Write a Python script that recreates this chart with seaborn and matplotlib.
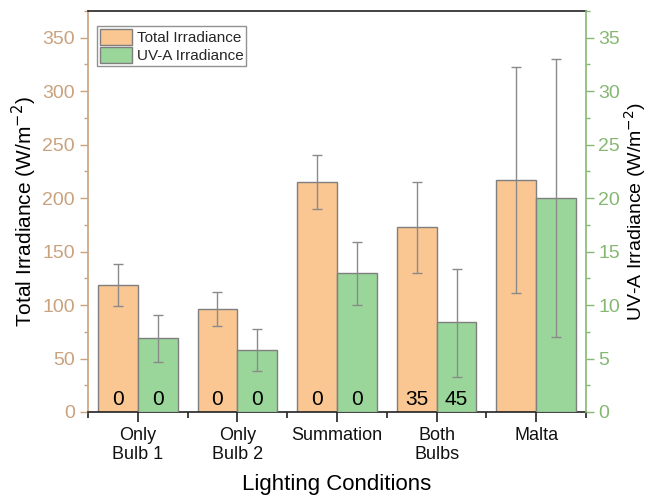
import numpy as np
import pandas as pd
import matplotlib
matplotlib.use("Agg")
import matplotlib.pyplot as plt
import seaborn as sns
from matplotlib.patches import Patch
from matplotlib.ticker import MultipleLocator

categories = ["Only\nBulb 1", "Only\nBulb 2", "Summation", "Both\nBulbs", "Malta"]
total = [119, 96, 215, 173, 217]
total_lo = [99, 80, 190, 130, 111]
total_hi = [138, 112, 240, 215, 323]
uva = [6.9, 5.8, 13.0, 8.4, 20.0]
uva_lo = [4.7, 3.8, 10.0, 3.3, 7.0]
uva_hi = [9.1, 7.8, 15.9, 13.4, 33.0]
labels_total = ["0", "0", "0", "35", ""]
labels_uva = ["0", "0", "0", "45", ""]
series = ["Total Irradiance", "UV-A Irradiance"]

sns.set_theme(style="white")
plt.rcParams["font.family"] = ["Liberation Sans", "DejaVu Sans"]

c_orange = "#FAC792"
c_green = "#9AD69A"
c_left = "#C9A27E"
c_right = "#86B873"
edge = "#7f7f7f"

df_t = pd.DataFrame({"cond": categories, "val": total, "series": series[0]})
df_u = pd.DataFrame({"cond": categories, "val": uva, "series": series[1]})
pal = {series[0]: c_orange, series[1]: c_green}

fig = plt.figure(figsize=(6.48, 4.95), dpi=100)
ax = fig.add_axes([0.1358, 0.1677, 0.7685, 0.81])
ax2 = ax.twinx()

sns.barplot(data=df_t, x="cond", y="val", hue="series", hue_order=series, order=categories,
            palette=pal, width=0.8, dodge=True, edgecolor=edge, linewidth=1, ax=ax,
            legend=False, saturation=1)
sns.barplot(data=df_u, x="cond", y="val", hue="series", hue_order=series, order=categories,
            palette=pal, width=0.8, dodge=True, edgecolor=edge, linewidth=1, ax=ax2,
            legend=False, saturation=1)

xt = np.array([p.get_x() + p.get_width() / 2 for p in ax.patches[:len(categories)]])
xu = np.array([p.get_x() + p.get_width() / 2 for p in ax2.patches[:len(categories)]])

t = np.array(total); u = np.array(uva)
ax.errorbar(xt, t, yerr=[t - np.array(total_lo), np.array(total_hi) - t], fmt="none",
            ecolor="#8a8a8a", elinewidth=1, capsize=3.5, capthick=1, zorder=5)
ax2.errorbar(xu, u, yerr=[u - np.array(uva_lo), np.array(uva_hi) - u], fmt="none",
             ecolor="#8a8a8a", elinewidth=1, capsize=3.5, capthick=1, zorder=5)

for x, s in zip(xt, labels_total):
    ax.text(x, 3, s, ha="center", va="bottom", fontsize=15, color="black", zorder=6)
for x, s in zip(xu, labels_uva):
    ax2.text(x, 0.3, s, ha="center", va="bottom", fontsize=15, color="black", zorder=6)

ax.set_xlim(-0.5, 4.5)
ax.set_ylim(0, 375)
ax2.set_ylim(0, 37.5)

ax.yaxis.set_major_locator(MultipleLocator(50))
ax.yaxis.set_minor_locator(MultipleLocator(25))
ax2.yaxis.set_major_locator(MultipleLocator(5))
ax2.yaxis.set_minor_locator(MultipleLocator(2.5))
ax.set_xticks(range(len(categories)))
ax.set_xticklabels(categories)
ax.xaxis.set_minor_locator(MultipleLocator(1, offset=0.5))

for sp in ["top", "bottom"]:
    ax.spines[sp].set_color("#222222")
    ax2.spines[sp].set_visible(False)
ax.spines["left"].set_color(c_left)
ax2.spines["left"].set_visible(False)
ax2.spines["right"].set_color(c_right)
ax.spines["right"].set_visible(False)
for sp in ax.spines.values():
    sp.set_linewidth(1.2)
ax2.spines["right"].set_linewidth(1.2)

ax.tick_params(axis="y", which="both", left=True, direction="out", colors=c_left, labelsize=14)
ax.tick_params(axis="y", which="major", length=6, width=1)
ax.tick_params(axis="y", which="minor", length=3, width=1)
ax2.tick_params(axis="y", which="both", right=True, direction="out", colors=c_right, labelsize=14)
ax2.tick_params(axis="y", which="major", length=6, width=1, pad=3)
ax2.tick_params(axis="y", which="minor", length=3, width=1)
ax.tick_params(axis="x", which="both", bottom=True, top=False, direction="out", color="#222222",
               labelcolor="#111111", labelsize=13)
ax.tick_params(axis="x", which="major", length=7, width=1.2)
ax.tick_params(axis="x", which="minor", length=4, width=1.2)
ax2.tick_params(axis="x", which="both", top=True, bottom=False, direction="in", color="#222222",
                labeltop=False, labelbottom=False)
ax2.tick_params(axis="x", which="major", length=7, width=1.2)
ax2.tick_params(axis="x", which="minor", length=4, width=1.2)

ax.set_xlabel("Lighting Conditions", fontsize=16, color="black", labelpad=8)
ax.set_ylabel("Total Irradiance (W/m$^{-2}$)", fontsize=15, color="black", labelpad=2)
ax2.set_ylabel("UV-A Irradiance (W/m$^{-2}$)", fontsize=14, color="black", labelpad=1)

handles = [Patch(facecolor=c_orange, edgecolor=edge, label=series[0]),
           Patch(facecolor=c_green, edgecolor=edge, label=series[1])]
leg = ax2.legend(handles=handles, loc="upper left", bbox_to_anchor=(0.018, 0.962), fontsize=11,
                 frameon=True, fancybox=False, edgecolor="#777777", borderpad=0.2,
                 handlelength=2.1, handleheight=1.2, handletextpad=0.3, labelspacing=0.1,
                 borderaxespad=0.0)
leg.get_frame().set_linewidth(1)

fig.savefig("out.png", dpi=100)
